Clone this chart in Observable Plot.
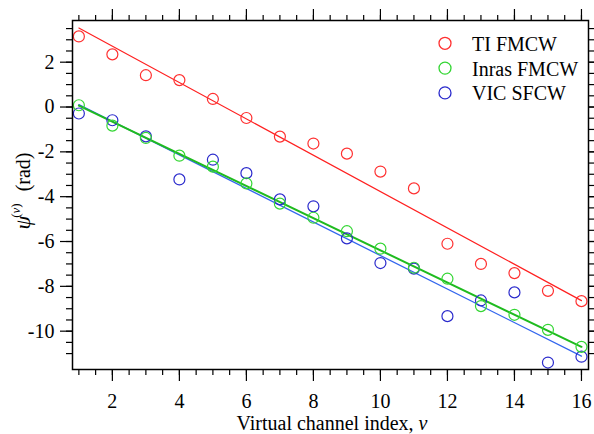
<!DOCTYPE html>
<html>
<head>
<meta charset="utf-8">
<script src="https://cdn.jsdelivr.net/npm/d3@7"></script>
<script src="https://cdn.jsdelivr.net/npm/@observablehq/plot@0.6"></script>
<style>
  html, body { margin: 0; padding: 0; background: white; }
</style>
</head>
<body>
<div id="chart"></div>
<script>
// ---- data ----
const channels = [1, 2, 3, 4, 5, 6, 7, 8, 9, 10, 11, 12, 13, 14, 15, 16];
const tiFMCW    = [3.15, 2.35, 1.42, 1.2, 0.36, -0.49, -1.32, -1.63, -2.08, -2.88, -3.63, -6.1, -7.0, -7.41, -8.2, -8.66];
const inrasFMCW = [0.08, -0.83, -1.38, -2.17, -2.66, -3.41, -4.31, -4.94, -5.54, -6.32, -7.17, -7.66, -8.88, -9.27, -9.94, -10.7];
const vicSFCW   = [-0.29, -0.59, -1.31, -3.23, -2.35, -2.95, -4.12, -4.43, -5.86, -6.96, -7.21, -9.33, -8.63, -8.27, -11.4, -11.14];

const seriesNames = ["TI FMCW", "Inras FMCW", "VIC SFCW"];
const dotColors   = ["#ff3030", "#33d633", "#2a2acc"];
const lineColors  = ["#ff2020", "#1fbb1f", "#3366ee"];
const lineWidths  = [1.2, 2, 1.3];

const xMajorTicks = [2, 4, 6, 8, 10, 12, 14, 16];
const yMajorTicks = [-10, -8, -6, -4, -2, 0, 2];
const xMinorTicks = d3.range(1, 16.001, 0.5);
const yMinorTicks = d3.range(-11, 3.501, 0.5);

const valuesBySeries = { "TI FMCW": tiFMCW, "Inras FMCW": inrasFMCW, "VIC SFCW": vicSFCW };
// drawing order: VIC first, then Inras, then TI
const drawOrder = ["VIC SFCW", "Inras FMCW", "TI FMCW"];
const data = drawOrder.flatMap(s => channels.map((v, i) => ({ v, psi: valuesBySeries[s][i], s })));

const fontFamily = "'Liberation Serif', 'Times New Roman', Times, serif";
const noText = () => "";
const fmt = d => String(d);

const plot = Plot.plot({
  width: 594,
  height: 434,
  marginLeft: 72,
  marginRight: 6,
  marginTop: 20,
  marginBottom: 65,
  style: { fontFamily, fontSize: "20px", background: "white", color: "black", overflow: "visible" },
  x: { domain: [0.81, 16.21] },
  y: { domain: [-11.71, 3.86] },
  color: { domain: seriesNames, range: dotColors },
  marks: [
    // axes: minor and major ticks on all four sides
    Plot.axisX({ anchor: "bottom", ticks: xMinorTicks, tickSize: 6, tickFormat: noText, label: null, strokeWidth: 1.2 }),
    Plot.axisX({ anchor: "bottom", ticks: xMajorTicks, tickSize: 12, tickPadding: 12, tickFormat: fmt, label: null, strokeWidth: 1.2 }),
    Plot.axisX({ anchor: "top", ticks: xMinorTicks, tickSize: 6, tickFormat: noText, label: null, strokeWidth: 1.2 }),
    Plot.axisX({ anchor: "top", ticks: xMajorTicks, tickSize: 12, tickFormat: noText, label: null, strokeWidth: 1.2 }),
    Plot.axisY({ anchor: "left", ticks: yMinorTicks, tickSize: 6, tickFormat: noText, label: null, strokeWidth: 1.2 }),
    Plot.axisY({ anchor: "left", ticks: yMajorTicks, tickSize: 12, tickPadding: 6, tickFormat: fmt, label: null, strokeWidth: 1.2 }),
    Plot.axisY({ anchor: "right", ticks: yMinorTicks, tickSize: 6, tickFormat: noText, label: null, strokeWidth: 1.2 }),
    Plot.axisY({ anchor: "right", ticks: yMajorTicks, tickSize: 12, tickFormat: noText, label: null, strokeWidth: 1.2 }),
    // linear fits
    ...drawOrder.map(s => {
      const k = seriesNames.indexOf(s);
      return Plot.linearRegressionY(data, {
        filter: d => d.s === s, x: "v", y: "psi",
        stroke: lineColors[k], strokeWidth: lineWidths[k], ci: 0
      });
    }),
    // measured points
    Plot.dot(data, { x: "v", y: "psi", stroke: "s", r: 5.5, strokeWidth: 1.2, fill: "none" }),
    Plot.frame({ stroke: "black", strokeWidth: 1.5 })
  ]
});

document.getElementById("chart").appendChild(plot);

const svg = d3.select(plot);

// x-axis label
const xl = svg.append("text")
  .attr("x", 332).attr("y", 430)
  .attr("text-anchor", "middle")
  .attr("font-family", fontFamily).attr("font-size", 20).attr("fill", "black");
xl.append("tspan").text("Virtual channel index, ");
xl.append("tspan").attr("font-style", "italic").text("v");

// y-axis label (rotated)
const yl = svg.append("text")
  .attr("transform", "translate(30,191) rotate(-90)")
  .attr("text-anchor", "middle")
  .attr("font-family", fontFamily).attr("font-size", 20).attr("fill", "black");
yl.append("tspan").attr("font-style", "italic").attr("font-size", 22).text("ψ");
yl.append("tspan").attr("font-size", 13).attr("dy", -10).attr("dx", -2).text("(");
yl.append("tspan").attr("font-size", 13).attr("font-style", "italic").text("v");
yl.append("tspan").attr("font-size", 13).text(")");
yl.append("tspan").attr("dy", 10).attr("dx", 12).text("(rad)");

// legend
const color = plot.scale("color");
const lg = svg.append("g").attr("font-family", fontFamily).attr("font-size", 20).attr("text-anchor", "start");
seriesNames.forEach((s, i) => {
  const cy = 43.3 + i * 24.8;
  lg.append("circle").attr("cx", 445).attr("cy", cy).attr("r", 6)
    .attr("fill", "none").attr("stroke", color.apply(s)).attr("stroke-width", 1.3);
  lg.append("text").attr("x", 472).attr("y", cy + 7.5).attr("text-anchor", "start").attr("fill", "black").text(s);
});
</script>
</body>
</html>
